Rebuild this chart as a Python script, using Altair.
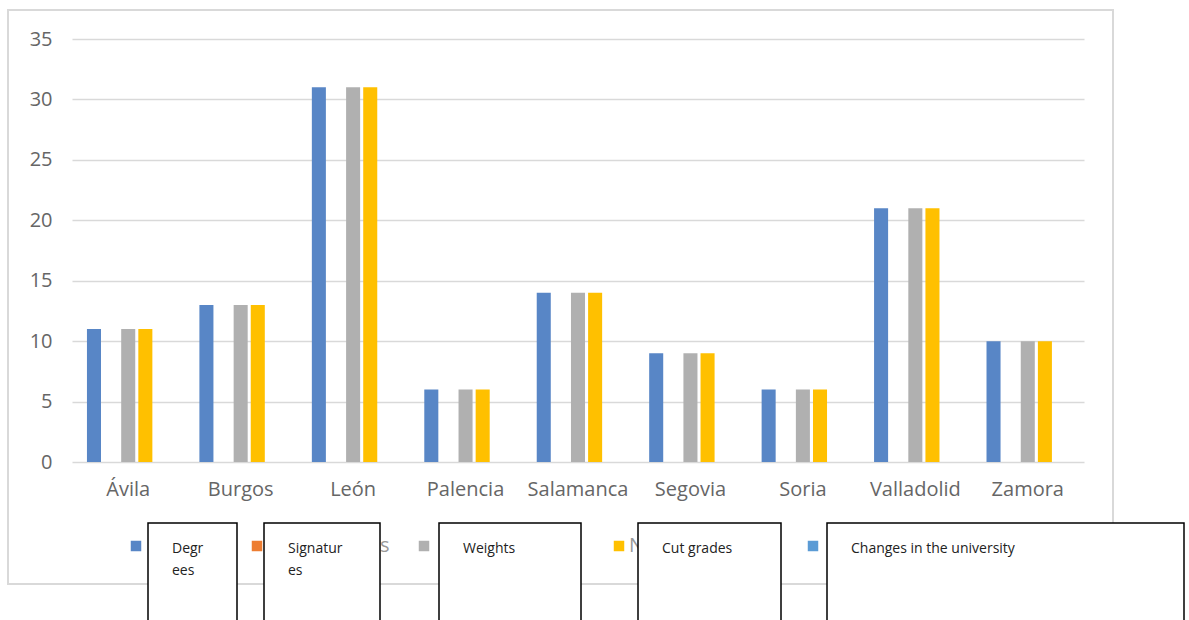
import altair as alt
import pandas as pd

# ---- data ----
cities = ["Ávila", "Burgos", "León", "Palencia", "Salamanca", "Segovia", "Soria", "Valladolid", "Zamora"]
series = ["Degrees", "Signatures", "Weights", "Cut grades", "Changes in the university"]
degrees = [11, 13, 31, 6, 14, 9, 6, 21, 10]
signatures = [0, 0, 0, 0, 0, 0, 0, 0, 0]
weights = [11, 13, 31, 6, 14, 9, 6, 21, 10]
cut_grades = [11, 13, 31, 6, 14, 9, 6, 21, 10]
changes = [0, 0, 0, 0, 0, 0, 0, 0, 0]
y_ticks = [0, 5, 10, 15, 20, 25, 30, 35]
box_labels = ["Degr\nees", "Signatur\nes", "Weights", "Cut grades", "Changes in the university"]

# ---- styles / layout ----
colors = ["#5886c6", "#ed7d31", "#b0b0b0", "#ffc000", "#5b9bd5"]
W, H = 1012, 423
OX, OY = 72, 39
legend_sym_x = [136, 257, 424, 619, 813]
box_left = [148, 264, 439, 638, 827]
box_right = [237, 380, 581, 781, 1184]
FONT = "Open Sans"

values = [degrees, signatures, weights, cut_grades, changes]
rows = []
for s, vals in zip(series, values):
    for c, v in zip(cities, vals):
        rows.append({"city": c, "series": s, "value": v})
df = pd.DataFrame(rows)

color_scale = alt.Scale(domain=series, range=colors)

frame = alt.Chart(pd.DataFrame({"a": [0]})).mark_rect(
    filled=False, stroke="#d9d9d9", strokeWidth=2
).encode(
    x=alt.value(8 - OX), x2=alt.value(1113 - OX),
    y=alt.value(10 - OY), y2=alt.value(584 - OY)
)

bars = alt.Chart(df).mark_bar().encode(
    x=alt.X("city:N", sort=cities,
            scale=alt.Scale(paddingInner=0.266, paddingOuter=0.133),
            axis=alt.Axis(title=None, labelAngle=0, domain=False, ticks=False,
                          labelPadding=17, labelFontSize=20, labelColor="#666666",
                          labelFont=FONT)),
    xOffset=alt.XOffset("series:N", sort=series,
                        scale=alt.Scale(domain=series, paddingInner=0.18, paddingOuter=0)),
    y=alt.Y("value:Q", scale=alt.Scale(domain=[0, 35], nice=False),
            axis=alt.Axis(values=y_ticks, title=None, domain=False, ticks=False,
                          grid=True, gridColor="#d9d9d9", gridWidth=1.5,
                          labelPadding=20, labelFontSize=20, labelColor="#666666",
                          labelFont=FONT)),
    color=alt.Color("series:N", scale=color_scale, legend=None),
)

leg_df = pd.DataFrame({"series": series, "lx": [x - OX for x in legend_sym_x]})
legend_syms = alt.Chart(leg_df).mark_square(size=110, opacity=1).encode(
    x=alt.X("lx:Q", scale=None),
    y=alt.value(546 - OY),
    color=alt.Color("series:N", scale=color_scale, legend=None),
)

frag_df = pd.DataFrame({"t": ["s", "N"], "fx": [380 - OX, 629 - OX]})
frags = alt.Chart(frag_df).mark_text(
    align="left", baseline="middle", fontSize=20, color="#999999", font=FONT
).encode(x=alt.X("fx:Q", scale=None), y=alt.value(546 - OY), text="t:N")

box_df = pd.DataFrame({
    "label": box_labels,
    "bx": [x - OX for x in box_left],
    "bx2": [x - OX for x in box_right],
    "tx": [x + 24 - OX for x in box_left],
})
boxes = alt.Chart(box_df).mark_rect(
    fill="white", stroke="black", strokeWidth=1.5
).encode(
    x=alt.X("bx:Q", scale=None), x2="bx2:Q",
    y=alt.value(523 - OY), y2=alt.value(640 - OY),
)
box_text = alt.Chart(box_df).mark_text(
    align="left", baseline="alphabetic", fontSize=14, color="#222222",
    font=FONT, lineBreak="\n", lineHeight=22
).encode(x=alt.X("tx:Q", scale=None), y=alt.value(553 - OY), text="label:N")

chart = alt.layer(frame, bars, legend_syms, frags, boxes, box_text).properties(
    width=W, height=H,
    padding={"left": OX, "top": OY, "right": 1189 - OX - W, "bottom": 620 - OY - H},
    autosize=alt.AutoSizeParams(type="none"),
    background="white",
).configure_view(stroke=None)

chart.save("out.html", embed_options={"renderer": "svg", "actions": False})
